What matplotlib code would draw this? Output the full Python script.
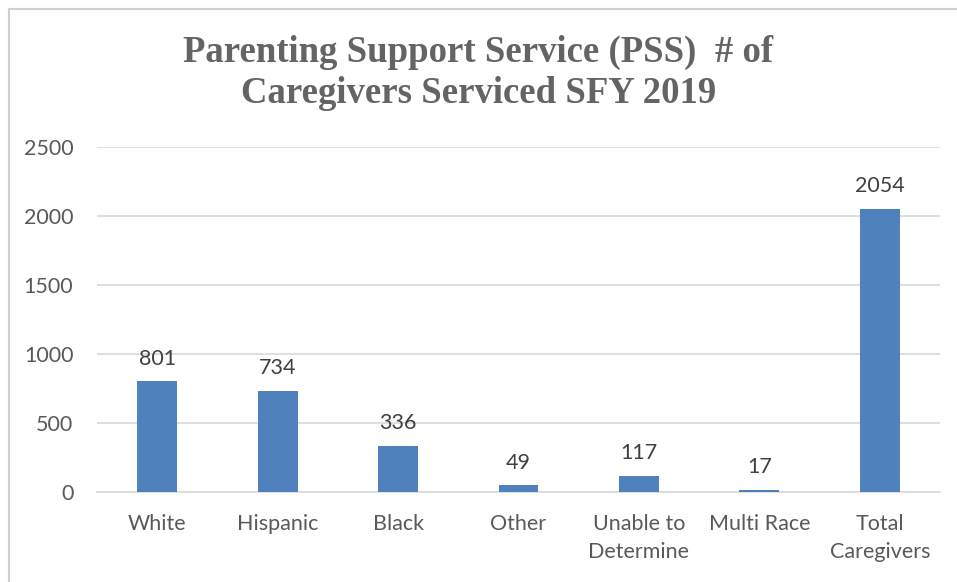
import matplotlib.pyplot as plt
from matplotlib.lines import Line2D

categories = ['White', 'Hispanic', 'Black', 'Other', 'Unable to\nDetermine',
              'Multi Race', 'Total\nCaregivers']
counts = [801, 734, 336, 49, 117, 17, 2054]
yticks = [0, 500, 1000, 1500, 2000, 2500]

W, H = 957, 582
fig = plt.figure(figsize=(W / 100, H / 100), dpi=100)
ax = fig.add_axes([97 / W, 1 - 492 / H, (940 - 97) / W, (492 - 147) / H])

x = list(range(len(categories)))
bars = ax.bar(x, counts, width=0.33, color='#4F81BD', zorder=3)
ax.set_xlim(-0.5, len(categories) - 0.5)
ax.set_ylim(0, 2500)
ax.set_yticks(yticks)
ax.set_yticklabels([str(v) for v in yticks])
ax.set_xticks(x)
ax.set_xticklabels(categories, linespacing=1.5)

ax.grid(axis='y', color='#D9D9D9', linewidth=1.2, zorder=0)
for side in ['top', 'right', 'left']:
    ax.spines[side].set_visible(False)
ax.spines['bottom'].set_color('#D9D9D9')
ax.spines['bottom'].set_linewidth(1.2)
ax.tick_params(axis='both', length=0, labelsize=15.5, labelcolor='#595959')
ax.tick_params(axis='x', pad=16)
ax.tick_params(axis='y', pad=17)
for lbl in ax.get_xticklabels() + ax.get_yticklabels():
    lbl.set_fontfamily('Lato')

for b, v in zip(bars, counts):
    ax.annotate(str(v), (b.get_x() + b.get_width() / 2, v), xytext=(0, 9),
                textcoords='offset points', ha='center', va='bottom',
                fontsize=15.5, color='#404040', fontfamily='Lato')

fig.text(0.5, 1 - 73 / H, 'Parenting Support Service (PSS)  # of\nCaregivers Serviced SFY 2019',
         ha='center', va='center', fontsize=26.5, fontweight='bold',
         fontfamily='Liberation Serif', color='#646464', linespacing=1.2)

# thin frame around the chart area
fig.add_artist(Line2D([8.5 / W, 8.5 / W], [0, 1 - 8.5 / H], transform=fig.transFigure,
                      color='#D0D0D0', linewidth=1.5))
fig.add_artist(Line2D([8.5 / W, 1], [1 - 8.5 / H, 1 - 8.5 / H], transform=fig.transFigure,
                      color='#D0D0D0', linewidth=1.5))

fig.savefig('out.png', dpi=100)
